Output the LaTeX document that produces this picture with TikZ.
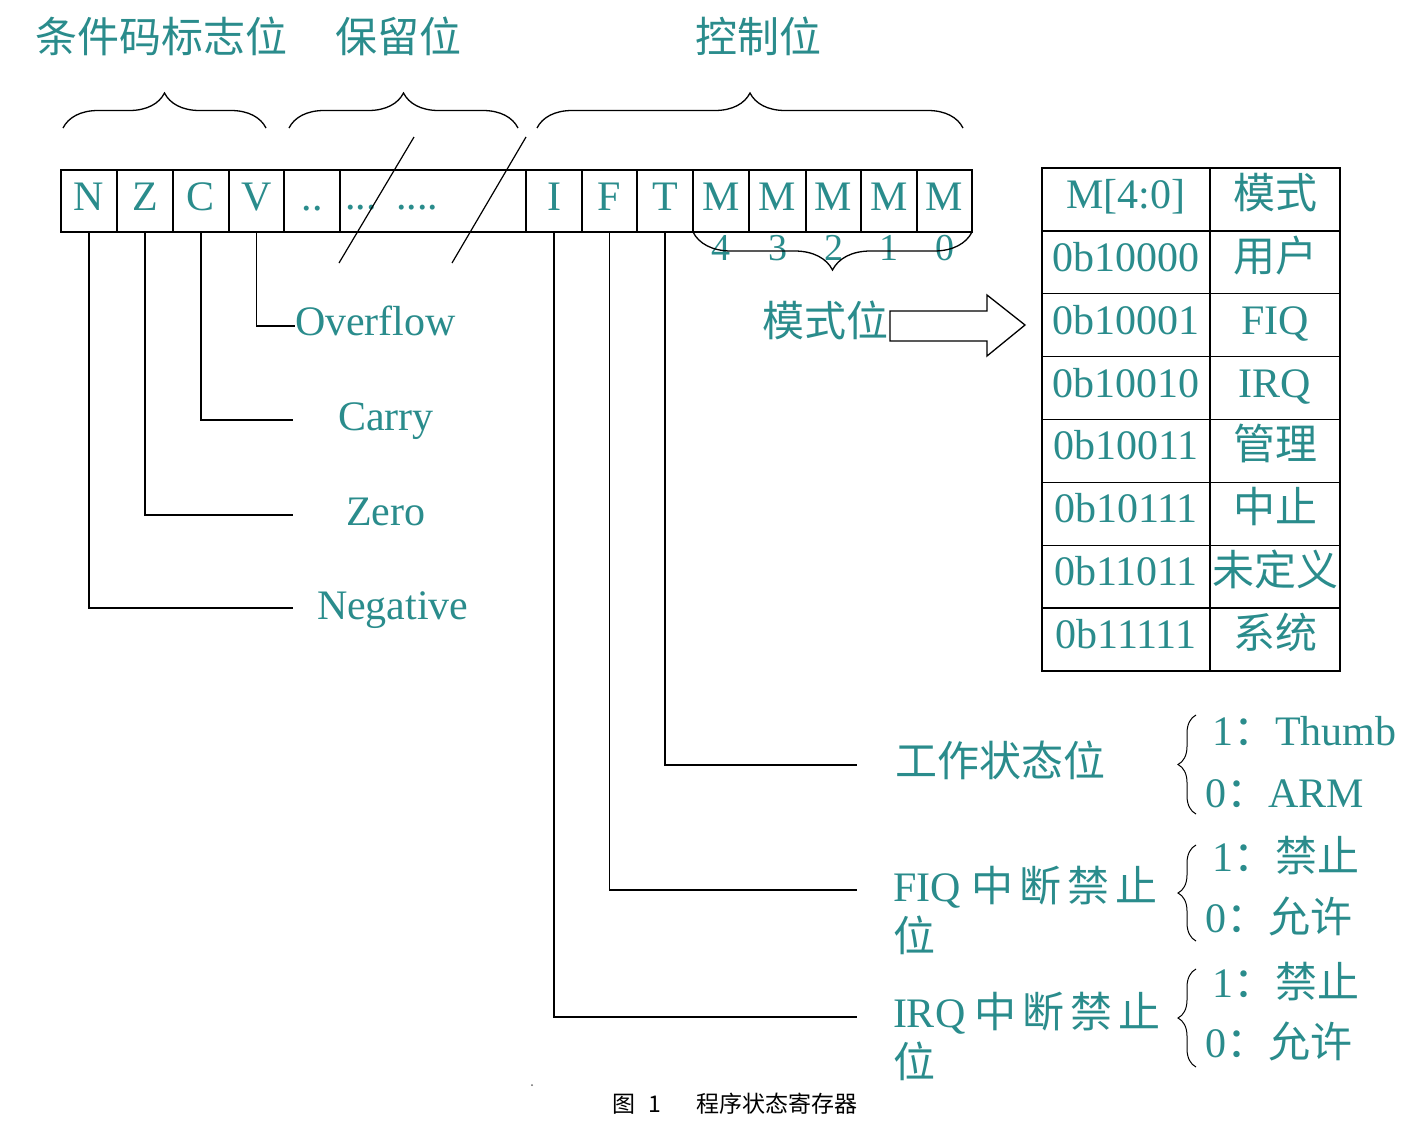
\documentclass[tikz,border=0pt]{standalone}
\usepackage{fontspec}
\setmainfont{Liberation Serif}
\newfontfamily\cjk{Noto Sans CJK SC}
\usetikzlibrary{decorations.pathreplacing}
\definecolor{tl}{RGB}{42,140,140}
\begin{document}
\begin{tikzpicture}[x=1pt,y=-1pt,
  every node/.style={inner sep=0pt, outer sep=0pt},
  lbl/.style={text=tl, font=\fontsize{42}{50}\selectfont},
  cell/.style={draw=black, line width=1.3pt, minimum height=62pt, text=tl,
    font=\fontsize{42}{42}\selectfont, text height=28pt, text depth=10pt},
  conn/.style={line width=1.3pt, draw=black},
  topbrace/.style={line width=1.3pt, decorate, decoration={brace, amplitude=35pt}},
  sidebrace/.style={line width=1pt, decorate, decoration={brace, amplitude=18pt}},
]
\useasboundingbox (0,0) rectangle (1424,1138);
\fill[white] (0,0) rectangle (1424,1138);

% top labels
\node[lbl, anchor=base west] (tcond) at (35,52) {\cjk 条件码标志位};
\node[lbl, anchor=base west] (tres) at (335,52) {\cjk 保留位};
\node[lbl, anchor=base west] (tctl) at (695,52) {\cjk 控制位};

% top braces
\draw[topbrace] (63,128) -- (266,128);
\draw[topbrace] (289,128) -- (518,128);
\draw[topbrace] (537,128) -- (963,128);

% register cells
\foreach \n/\l/\r/\t in {N/61/117/N, Z/117/173/Z, C/173/229/C, V/229/284/V,
   R1/284/340/{..}, R2/340/526/{}, I/526/582/I, F/582/637/F, T/637/693/T,
   Ma/693/749/M, Mb/749/806/M, Mc/806/861/M, Md/861/917/M, Me/917/972/M}
  \node[cell, minimum width={(\r-\l)*1pt}] (\n) at ({(\l+\r)/2},201) {\t};
\node[lbl, anchor=base west] (dots) at (345,209) {...\hspace{20pt}....};

% slashes
\draw[line width=1.2pt] (414,137) -- (339,263);
\draw[line width=1.2pt] (526,137) -- (452,263);

% mode digits and brace
\foreach \n/\d in {Ma/4,Mb/3,Mc/2,Md/1,Me/0}
  \node[lbl, font=\fontsize{38}{38}\selectfont, anchor=base] (d\d) at ([yshift=-28pt]\n.south) {\d};
\draw[topbrace, decoration={brace, mirror, amplitude=38pt}] (693,232) -- (972,232);

% mode label and block arrow
\node[lbl, anchor=base east] (mbit) at (888,336) {\cjk 模式位};
\draw[line width=1.3pt, fill=white] (890,311) -- (987,311) -- (987,295) -- (1025,325)
   -- (987,356) -- (987,341) -- (890,341) -- cycle;

% mode table
\foreach \i/\a/\b in {0/{M[4:0]}/{\cjk 模式}, 1/0b10000/{\cjk 用户}, 2/0b10001/FIQ,
   3/0b10010/IRQ, 4/0b10011/{\cjk 管理}, 5/0b10111/{\cjk 中止},
   6/0b11011/{\cjk 未定义}, 7/0b11111/{\cjk 系统}} {
  \node[cell, minimum width=168pt, minimum height=62.9pt] (ka\i) at (1126,{168+62.875*(\i+0.5)}) {\a};
  \node[cell, minimum width=130pt, minimum height=62.9pt] (kb\i) at (1275,{168+62.875*(\i+0.5)}) {\b};
}

% left flag labels and connectors
\node[lbl, anchor=base west] (ovf) at (295,335) {Overflow};
\node[lbl, anchor=base west] (cry) at (338,430) {Carry};
\node[lbl, anchor=base west] (zro) at (346,525) {Zero};
\node[lbl, anchor=base west] (neg) at (317,619) {Negative};
\coordinate (eV) at (295,326);
\coordinate (eC) at (293,420);
\coordinate (eZ) at (293,515);
\coordinate (eN) at (293,608);
\draw[conn] (V.south) |- (eV);
\draw[conn] (C.south) |- (eC);
\draw[conn] (Z.south) |- (eZ);
\draw[conn] (N.south) |- (eN);

% right control labels and connectors
\node[lbl, anchor=base west] (work) at (895,776) {\cjk 工作状态位};
\node[lbl, anchor=north west, align=left] (fiq) at (893,866)
  {FIQ\hspace{11pt}{\cjk 中\hspace{6pt}断\hspace{6pt}禁\hspace{6pt}止}\\{\cjk 位}};
\node[lbl, anchor=north west, align=left] (irq) at (893,992)
  {IRQ\hspace{9pt}{\cjk 中\hspace{6pt}断\hspace{6pt}禁\hspace{6pt}止}\\{\cjk 位}};
\coordinate (eT) at (857,765);
\coordinate (eF) at (857,890);
\coordinate (eI) at (857,1017);
\draw[conn] (T.south) |- (eT);
\draw[conn] (F.south) |- (eF);
\draw[conn] (I.south) |- (eI);

% option braces and values
\draw[sidebrace] (1196,814) -- (1196,715);
\draw[sidebrace] (1196,941) -- (1196,845);
\draw[sidebrace] (1196,1067) -- (1196,969);
\node[lbl, anchor=base west] (o1) at (1212,745) {1{\cjk ：}Thumb};
\node[lbl, anchor=base west] (o2) at (1205,807) {0{\cjk ：}ARM};
\node[lbl, anchor=base west] (o3) at (1212,871) {1{\cjk ：禁止}};
\node[lbl, anchor=base west] (o4) at (1205,932) {0{\cjk ：允许}};
\node[lbl, anchor=base west] (o5) at (1212,997) {1{\cjk ：禁止}};
\node[lbl, anchor=base west] (o6) at (1205,1057) {0{\cjk ：允许}};

% caption
\fill[black!60] (532,1085) circle (1pt);
\node[anchor=base west, font=\cjk\fontsize{23}{23}\selectfont] (cap) at (612,1112)
  {图\hspace{13pt}1\hspace{36pt}程序状态寄存器};
\end{tikzpicture}
\end{document}
